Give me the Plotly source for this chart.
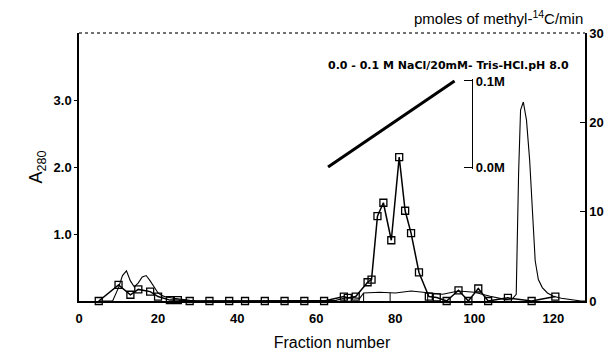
import plotly.graph_objects as go

# ---- data ----
# methyltransferase activity (pmoles of methyl-14C/min), open squares
act_frac = [5, 10, 13, 15, 18, 20, 23, 25, 28, 33, 38, 42, 47, 52, 57, 62, 67, 68, 70,
            73, 74, 75.5, 77, 79, 81, 82.5, 84, 86, 88.5, 90.5, 93, 96, 98.5, 101,
            103.5, 108.5, 114.5, 120.5]
act_pmol = [0.0, 1.8, 0.7, 1.3, 1.05, 0.5, 0.1, 0.1, 0.0, 0.0, 0.0, 0.0, 0.0, 0.0, 0.0, 0.0,
            0.5, 0.35, 0.5, 2.1, 2.4, 9.5, 11.0, 6.8, 16.1, 10.1, 7.6, 3.2, 0.5, 0.4,
            0.0, 1.2, 0.0, 1.4, 0.0, 0.35, 0.0, 0.5]

# absorbance at 280 nm, thin line
a280_frac = [5, 8.5, 10, 11, 12, 13, 14, 15, 16, 17, 18, 19, 20, 21, 22, 24, 26, 28, 30,
             40, 50, 60, 65, 67, 69, 71, 72, 76, 80, 84, 88, 92, 96, 100, 104, 108,
             109.6, 110.6, 111.2, 111.7, 112.4, 113.2, 114.0, 114.7, 115.4, 116.2,
             117.2, 118.5, 120, 122, 124, 127, 128]
a280_val = [0.0, 0.0, 0.2, 0.38, 0.45, 0.3, 0.21, 0.27, 0.36, 0.38, 0.3, 0.2, 0.12, 0.08,
            0.06, 0.04, 0.02, 0.01, 0.0, 0.0, 0.0, 0.005, 0.01, 0.04, 0.05, 0.04, 0.12,
            0.13, 0.12, 0.15, 0.12, 0.1, 0.15, 0.13, 0.07, 0.02, 0.03, 0.1, 1.9, 2.85,
            2.97, 2.7, 2.1, 1.3, 0.6, 0.32, 0.2, 0.12, 0.07, 0.04, 0.02, 0.0, 0.0]

# pooled fraction markers (vertical dividers under the A280 trace)
pool_frac = [72, 78.7, 88.2]
pool_top = [0.12, 0.125, 0.12]

# NaCl gradient 0.0 - 0.1 M
nacl_frac = [63, 95]
nacl_M = [0.0, 0.1]

x_ticks = [0, 20, 40, 60, 80, 100, 120]
left_ticks = [1.0, 2.0, 3.0]
left_ticktext = ["1.0", "2.0", "3.0"]
right_ticks = [0, 10, 20, 30]
nacl_ticks = [0.0, 0.1]
nacl_ticktext = ["0.0M", "0.1M"]

FONT = "Liberation Sans"

# NaCl scale placement: 0.0M sits at half height, 0.1M at 82.1% of the plot height
NACL_PAD = 0.002
nacl_lo, nacl_hi = 0.5, 0.821
per_unit = (nacl_hi - nacl_lo) / 0.1
nacl_domain = [nacl_lo - NACL_PAD * per_unit, nacl_hi + NACL_PAD * per_unit]
nacl_range = [-NACL_PAD, 0.1 + NACL_PAD]

fig = go.Figure()

fig.add_trace(go.Scatter(x=a280_frac, y=a280_val, mode="lines",
                         line=dict(color="black", width=1.1), yaxis="y",
                         showlegend=False, hoverinfo="skip"))

px, py = [], []
for f, t in zip(pool_frac, pool_top):
    px += [f, f, None]
    py += [0, t, None]
fig.add_trace(go.Scatter(x=px, y=py, mode="lines",
                         line=dict(color="black", width=1), yaxis="y",
                         showlegend=False, hoverinfo="skip"))

fig.add_trace(go.Scatter(x=act_frac, y=act_pmol, mode="lines+markers",
                         line=dict(color="black", width=1.5),
                         marker=dict(symbol="square-open", size=7, color="black",
                                     line=dict(width=1.3, color="black")),
                         yaxis="y2", showlegend=False, cliponaxis=False))

fig.add_trace(go.Scatter(x=nacl_frac, y=nacl_M, mode="lines",
                         line=dict(color="black", width=3), yaxis="y3",
                         showlegend=False, cliponaxis=False))

fig.update_layout(
    width=606, height=351, autosize=False,
    margin=dict(l=79, r=21, t=33, b=50),
    paper_bgcolor="white", plot_bgcolor="rgba(0,0,0,0)",
    font=dict(family=FONT, color="black"),
    xaxis=dict(range=[0, 128], tickvals=x_ticks, showgrid=False, zeroline=False,
               showline=True, linecolor="black", linewidth=1.5, ticks="",
               automargin=False, ticklabelstandoff=5,
               tickfont=dict(size=13, weight="bold"),
               title=dict(text="Fraction number", font=dict(size=16), standoff=12)),
    yaxis=dict(range=[0, 4], tickvals=left_ticks, ticktext=left_ticktext,
               showgrid=False, zeroline=False, showline=True, linecolor="black",
               linewidth=1.5, ticks="outside", ticklen=3, tickcolor="black",
               automargin=False,
               tickfont=dict(size=13, weight="bold"),
               title=dict(text="A<sub>280</sub>", font=dict(size=18), standoff=6)),
    yaxis2=dict(range=[0, 30], tickvals=right_ticks, overlaying="y", side="right",
                showgrid=False, zeroline=False, showline=True, linecolor="black",
                linewidth=1.5, ticks="inside", ticklen=5, tickcolor="black",
                automargin=False,
                tickfont=dict(size=13, weight="bold")),
    yaxis3=dict(domain=nacl_domain, range=nacl_range, tickvals=nacl_ticks,
                ticktext=nacl_ticktext, anchor="free", position=0.777, side="right",
                showgrid=False, zeroline=False, showline=True, linecolor="black",
                linewidth=1.2, ticks="inside", ticklen=8, tickwidth=1.2,
                tickcolor="black", automargin=False,
                tickfont=dict(size=13, weight="bold")),
    shapes=[dict(type="line", xref="paper", yref="paper", x0=0, x1=1, y0=1, y1=1,
                 line=dict(color="#444", width=1.5, dash="dot"))],
    annotations=[
        dict(text="pmoles of methyl-<sup>14</sup>C/min", xref="paper", yref="paper",
             x=1.0, y=1.058, xanchor="right", yanchor="middle", showarrow=False,
             font=dict(size=15)),
        dict(text="0.0 - 0.1 M NaCl/20mM- Tris-HCl.pH 8.0", xref="paper", yref="paper",
             x=0.488, y=0.878, xanchor="left", yanchor="middle", showarrow=False,
             font=dict(family="DejaVu Sans", size=11, weight="bold")),
    ],
)

fig.write_html("out.html")
